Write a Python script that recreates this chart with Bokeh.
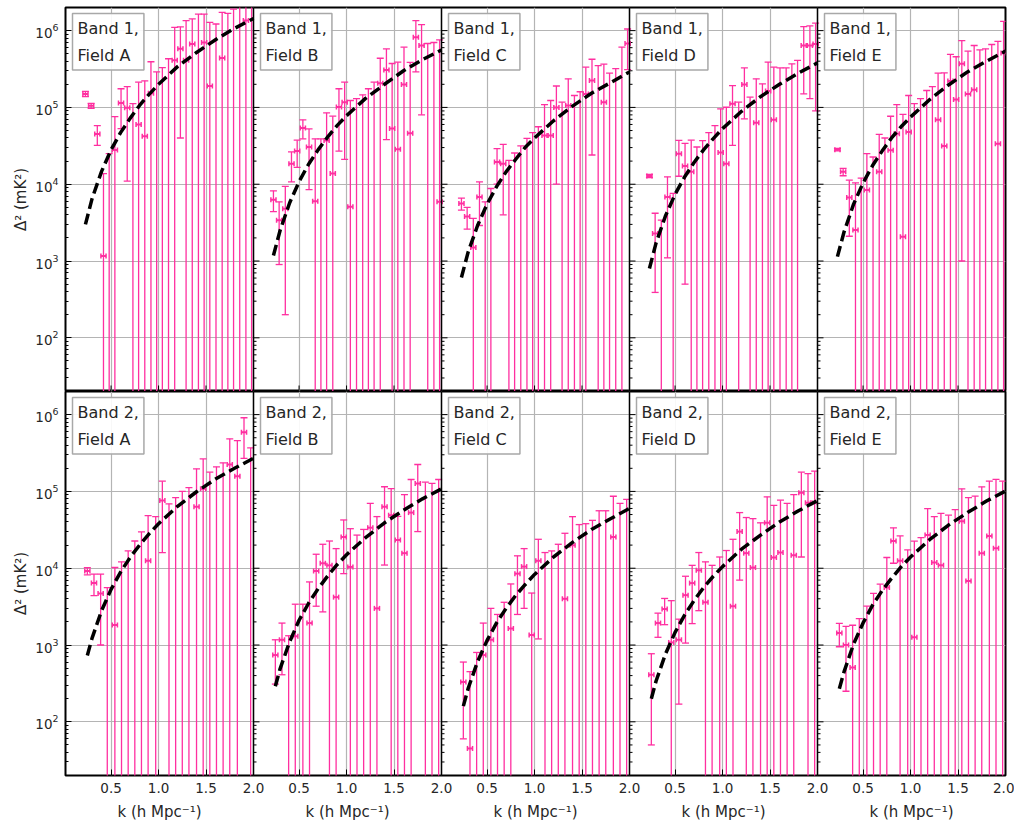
import numpy as np
from bokeh.plotting import figure
from bokeh.layouts import column
from bokeh.models import Range1d, FixedTicker, LogTickFormatter, Label, Span
from bokeh.embed import file_html
from bokeh.resources import INLINE

# ---------------------------------------------------------------- data
# k bin centres (h Mpc^-1)
k_band1 = [0.23, 0.29, 0.355, 0.42, 0.48, 0.54, 0.605, 0.67, 0.73, 0.79,
           0.855, 0.92, 0.98, 1.04, 1.105, 1.17, 1.23, 1.29, 1.355, 1.42,
           1.48, 1.54, 1.605, 1.67, 1.73, 1.79, 1.855, 1.92, 1.98]
k_band2 = [0.25, 0.32, 0.39, 0.46, 0.54, 0.61, 0.68, 0.75, 0.82, 0.89,
           0.97, 1.04, 1.11, 1.18, 1.25, 1.32, 1.40, 1.47, 1.54, 1.61,
           1.68, 1.75, 1.83, 1.90, 1.97]

# Band 1: Delta^2 (mK^2) and 1-sigma errors per field
b1_A_delta = [1.50e5, 1.05e5, 4.5e4, 1.16e3, -5e3, 2.8e4, 1.14e5, 9.9e4, -2e4, 6.0e4,
              4.2e4, 1.53e5, -6e4, -6e4, -8e4, 4.1e5, 5.8e5, 4.1e5, 6.7e5, -3e5,
              7.0e5, 1.9e5, -2e5, 4.4e5, -3e5, -3e5, -3e5, 1.35e6, -4e5]
b1_A_sigma = [1.2e4, 8e3, 1.3e4, 1.26e4, 3.0e4, 4.8e4, 6.1e4, 8.8e4, 1.32e5, 1.53e5,
              1.8e5, 2.4e5, 3.5e5, 3.9e5, 5.1e5, 6.9e5, 5.4e5, 9.4e5, 7.5e5, 1.94e6,
              9.4e5, 1.09e6, 1.42e6, 1.29e6, 1.98e6, 2.2e6, 2.8e6, 1.5e6, 3.2e6]

b1_B_delta = [6.3e3, 3.4e3, 4.8e3, 1.85e4, 2.7e4, 5.4e4, 3.05e4, 6.0e3, -8e3, 3.7e4,
              1.38e4, 1.01e5, 1.17e5, 5.1e3, -2e4, -3e4, -3e4, -4e4, 2.07e5, 3.08e5,
              5.3e4, 2.85e4, 1.99e5, 4.6e4, 8.2e5, 6.4e5, -1e5, -1e5, 5.9e3]
b1_B_sigma = [1.9e3, 2.5e3, 4.6e3, 7.8e3, 1.04e4, 1.5e4, 2.2e4, 3.3e4, 4.7e4, 4.8e4,
              6.3e4, 7.4e4, 9.6e4, 1.18e5, 1.5e5, 1.76e5, 2.05e5, 2.53e5, 2.3e5, 2.7e5,
              3.2e5, 3.6e5, 4.1e5, 3.4e5, 5.3e5, 5.6e5, 7.8e5, 8.0e5, 7.5e5]

b1_C_delta = [5.6e3, 3.8e3, 1.5e3, 6.8e3, -1e3, -2e3, 1.95e4, 1.85e4, -4e3, -5e3,
              -6e3, -8e3, -1e4, -1e4, 4.3e4, 4.3e4, 1.0e5, -2e4, 1.06e5, -3e4,
              -3e4, 1.5e5, 2.24e5, -6e4, 1.17e5, -5e4, -6e4, -1e5, 6.8e5]
b1_C_sigma = [1.0e3, 1.2e3, 2.1e3, 3.9e3, 6.9e3, 1.08e4, 9.5e3, 1.45e4, 2.45e4, 3.05e4,
              3.75e4, 4.75e4, 5.7e4, 6.6e4, 6.6e4, 8.0e4, 9.0e4, 1.37e5, 1.3e5, 1.73e5,
              1.9e5, 1.84e5, 2.0e5, 4.1e5, 2.5e5, 3.3e5, 3.8e5, 7.1e5, 3.7e5]

b1_D_delta = [1.28e4, 2.29e3, -7e2, 6.8e3, -1.5e3, 2.5e4, 1.73e4, 1.45e4, -6e3, -7e3,
              -9e3, -1e4, 2.58e4, 1.85e4, 1.12e5, -2e4, 1.99e5, -3e4, 6.3e4, -4e4,
              1.63e5, 6.9e4, -6e4, -6e4, -7e4, -8e4, 6.4e5, 6.4e5, 6.7e5]
b1_D_sigma = [6e2, 1.9e3, 4.1e3, 5.7e3, 9.1e3, 1.23e4, 1.68e4, 2.3e4, 3.65e4, 4.4e4,
              5.6e4, 6.8e4, 7.0e4, 8.2e4, 8.0e4, 1.37e5, 1.28e5, 1.66e5, 1.73e5, 2.43e5,
              2.27e5, 2.65e5, 3.87e5, 3.87e5, 4.4e5, 4.9e5, 4.9e5, 5.1e5, 5.8e5]

b1_E_delta = [2.82e4, 1.45e4, 6.7e3, 2.53e3, -2e3, 8.4e3, -4e3, 1.45e4, -8e3, 2.77e4,
              4.55e4, 2.07e3, 4.8e4, -2e4, -2e4, -3e4, -4e4, 6.9e4, 3.15e4, 2.2e5,
              1.27e5, 3.7e5, 1.5e5, 1.7e5, -1e5, -1e5, -1e5, 3.37e4, 5.1e5]
b1_E_sigma = [1.0e3, 1.6e3, 4.6e3, 7.9e3, 1.4e4, 1.66e4, 2.66e4, 3.0e4, 4.8e4, 4.9e4,
              6.3e4, 7.9e4, 9.5e4, 1.32e5, 1.5e5, 1.96e5, 2.27e5, 2.1e5, 2.5e5, 2.7e5,
              3.3e5, 3.69e5, 3.9e5, 4.7e5, 6.6e5, 6.8e5, 7.6e5, 6.9e5, 8.1e5]

# Band 2: Delta^2 (mK^2) and 1-sigma errors per field
b2_A_delta = [9.2e3, 6.4e3, 4.7e3, -1e3, 1.82e3, -2e3, -3e3, -4e3, -5e3, 1.25e4,
              -8e3, 7.6e4, -1e4, -1.5e4, -2e4, -2e4, 6.3e4, 1.08e5, -3e4, -4e4,
              -4e4, 2.24e5, 1.58e5, 5.9e5, -6e4]
b2_A_sigma = [1.0e3, 2.0e3, 3.7e3, 6.6e3, 8.4e3, 1.41e4, 1.98e4, 2.66e4, 3.47e4, 3.6e4,
              5.5e4, 6.0e4, 7.9e4, 9.8e4, 1.2e5, 1.32e5, 1.34e5, 1.57e5, 2.08e5, 2.49e5,
              2.76e5, 2.6e5, 3.0e5, 3.2e5, 4.3e5]

b2_B_delta = [7.4e2, 1.17e3, -3e2, 1.3e3, -7e2, 1.93e3, 9.2e3, 1.16e4, 1.09e4, 4.2e3,
              2.55e4, 1.04e4, -5e3, -6e3, 3.37e4, 3.0e3, 6.3e4, 4.9e4, 2.33e4, 1.57e4,
              5.3e4, 1.27e5, -3e4, -3e4, -3e4]
b2_B_sigma = [4.3e2, 7.6e2, 1.62e3, 2.1e3, 4.1e3, 4.7e3, 6.0e3, 8.9e3, 1.17e4, 1.38e4,
              1.7e4, 2.23e4, 3.2e4, 3.8e4, 3.6e4, 4.4e4, 5.2e4, 6.0e4, 2.4e4, 7.5e4,
              9.0e4, 9.7e4, 1.62e5, 1.57e5, 1.73e5]

b2_C_delta = [3.3e2, 45, -1.5e2, 7.4e2, 1.17e3, -5e2, -7e2, 1.64e3, 8.5e3, 1.05e4,
              1.35e3, 1.25e4, -3e3, -3e3, -4e3, 4.0e3, 1.99e4, -7e3, -7e3, -8e3,
              -1e4, -1e4, 2.55e4, -1.3e4, -1.5e4]
b2_C_sigma = [2.7e2, 4.05e2, 9.5e2, 1.19e3, 1.83e3, 3.0e3, 4.3e3, 4.6e3, 6.0e3, 7.5e3,
              3.4e3, 1.13e4, 1.9e4, 1.98e4, 2.45e4, 2.45e4, 2.7e4, 4.4e4, 4.5e4, 5.0e4,
              6.6e4, 6.6e4, 6.1e4, 8.3e4, 9.4e4]

b2_D_delta = [4.1e2, 1.93e3, 2.94e3, 1.08e3, 1.17e3, 4.46e3, 6.4e3, 9.4e3, 3.6e3, -2e3,
              -3e3, -3e3, 3.2e3, 3.0e4, 1.57e4, 1.02e4, -7e3, 3.9e4, 1.38e4, 1.6e4,
              -1.3e4, 1.48e4, 9.6e4, 7.1e4, 7.1e4]
b2_D_sigma = [3.6e2, 6.7e2, 1.1e3, 2.7e3, 1.0e3, 3.4e3, 4.5e3, 6.6e3, 8.5e3, 1.29e4,
              1.7e4, 2.0e4, 2.06e4, 2.3e4, 3.0e4, 3.4e4, 4.6e4, 4.6e4, 5.2e4, 6.1e4,
              8.3e4, 7.6e4, 8.2e4, 1.0e5, 1.13e5]

b2_E_delta = [1.43e3, 1.0e3, 5.1e2, -4e2, -6e2, -9e2, -1e3, 5.6e3, 2.26e4, 1.25e4,
              -3e3, 1.26e3, -5e3, 2.71e4, 1.19e4, 1.09e4, -1e4, -1e4, 4.1e4, 6.8e3,
              -1.5e4, 1.57e4, 2.63e4, 1.82e4, -2.5e4]
b2_E_sigma = [4.8e2, 7.5e2, 1.3e3, 2.6e3, 3.8e3, 5.6e3, 7.2e3, 8.2e3, 1.1e4, 1.38e4,
              2.03e4, 2.13e4, 3.0e4, 3.25e4, 3.5e4, 4.1e4, 5.9e4, 6.8e4, 6.7e4, 7.6e4,
              1.02e5, 9.9e4, 1.1e5, 1.25e5, 1.61e5]

# model curves (dashed)
curve_k_band1 = [0.23, 0.3, 0.4, 0.5, 0.6, 0.7, 0.8, 0.9, 1.0, 1.2, 1.4, 1.6, 1.8, 2.0]
curve_k_band2 = [0.25, 0.3, 0.4, 0.5, 0.6, 0.7, 0.8, 0.9, 1.0, 1.2, 1.4, 1.6, 1.8, 2.0]
b1_A_model = [3.0e3, 6.5e3, 1.47e4, 2.8e4, 4.7e4, 7.2e4, 1.06e5, 1.48e5, 2.0e5, 3.4e5, 5.2e5, 7.6e5, 1.07e6, 1.44e6]
b1_B_model = [1.18e3, 2.5e3, 5.7e3, 1.08e4, 1.82e4, 2.8e4, 4.1e4, 5.8e4, 7.8e4, 1.31e5, 2.0e5, 3.0e5, 4.2e5, 5.6e5]
b1_C_model = [6.1e2, 1.3e3, 2.9e3, 5.5e3, 9.3e3, 1.45e4, 2.1e4, 3.0e4, 4.0e4, 6.7e4, 1.04e5, 1.53e5, 2.1e5, 2.9e5]
b1_D_model = [8.0e2, 1.72e3, 3.9e3, 7.4e3, 1.24e4, 1.92e4, 2.8e4, 3.9e4, 5.3e4, 8.9e4, 1.38e5, 2.0e5, 2.8e5, 3.8e5]
b1_E_model = [1.14e3, 2.4e3, 5.5e3, 1.04e4, 1.75e4, 2.7e4, 4.0e4, 5.6e4, 7.5e4, 1.26e5, 1.96e5, 2.9e5, 4.0e5, 5.4e5]
b2_A_model = [7.3e2, 1.23e3, 2.8e3, 5.3e3, 8.9e3, 1.38e4, 2.0e4, 2.8e4, 3.8e4, 6.4e4, 9.9e4, 1.45e5, 2.0e5, 2.7e5]
b2_B_model = [2.9e2, 4.9e2, 1.1e3, 2.1e3, 3.5e3, 5.4e3, 7.9e3, 1.11e4, 1.5e4, 2.5e4, 3.9e4, 5.7e4, 8.0e4, 1.08e5]
b2_C_model = [1.6e2, 2.7e2, 6.1e2, 1.15e3, 1.94e3, 3.0e3, 4.4e3, 6.1e3, 8.3e3, 1.4e4, 2.17e4, 3.2e4, 4.4e4, 6.0e4]
b2_D_model = [2.0e2, 3.4e2, 7.7e2, 1.46e3, 2.45e3, 3.8e3, 5.6e3, 7.8e3, 1.05e4, 1.77e4, 2.7e4, 4.0e4, 5.6e4, 7.6e4]
b2_E_model = [2.7e2, 4.5e2, 1.03e3, 1.94e3, 3.3e3, 5.1e3, 7.4e3, 1.04e4, 1.4e4, 2.35e4, 3.65e4, 5.3e4, 7.5e4, 1.01e5]

fields = ["A", "B", "C", "D", "E"]
x_tick_values = [0.5, 1.0, 1.5, 2.0]
y_major = [1e2, 1e3, 1e4, 1e5, 1e6]
y_minor = [m * 10.0 ** e for e in range(1, 7) for m in range(2, 10)]

# ---------------------------------------------------------------- style
K_LO, K_HI = 0.02, 2.0
K_SPAN = K_HI - K_LO
Y_LO, Y_HI = 20.0, 2e6
N = len(fields)
PANEL_W, PANEL_H = 188, 384
PX_PER_K = PANEL_W / K_SPAN
PX_PER_DECADE = PANEL_H / np.log10(Y_HI / Y_LO)
LEFT, RIGHT = 65, 9
XERR = 0.027
PINK = "#ff2fa0"
TEXT = "#262626"
FONT = "DejaVu Sans"
GRID = "#b4b4b4"

x_ticks_all = [t + j * K_SPAN for j in range(N) for t in x_tick_values]


def band_row(band, k_bins, deltas, sigmas, curve_k, models, bottom_row):
    p = figure(frame_width=PANEL_W * N, frame_height=PANEL_H,
               x_range=Range1d(K_LO, K_LO + N * K_SPAN),
               y_range=Range1d(Y_LO, Y_HI), y_axis_type="log",
               x_axis_location="below" if bottom_row else None,
               output_backend="svg", toolbar_location=None,
               min_border_left=LEFT, min_border_right=RIGHT,
               min_border_top=0 if bottom_row else 7,
               min_border_bottom=26 if bottom_row else 0)
    p.background_fill_color = "white"
    p.border_fill_color = "white"
    p.outline_line_color = "black"
    p.outline_line_width = 2

    # each field gets its own k scale, placed side by side
    p.extra_x_ranges = {f"field{j}": Range1d(K_LO - j * K_SPAN, K_LO + (N - j) * K_SPAN)
                        for j in range(N)}

    xgrid = p.xgrid[0]
    xgrid.axis.ticker = FixedTicker(ticks=x_ticks_all, minor_ticks=[])
    xgrid.ticker = FixedTicker(ticks=x_ticks_all, minor_ticks=[])
    if bottom_row:
        p.xaxis.major_label_overrides = {t + j * K_SPAN: f"{t:.1f}"
                                         for j in range(N) for t in x_tick_values}
    else:
        # inward k ticks along the lower edge
        tick_top = Y_LO * 10 ** (6 / PX_PER_DECADE)
        p.segment(x0=x_ticks_all, x1=x_ticks_all,
                  y0=[Y_LO] * len(x_ticks_all), y1=[tick_top] * len(x_ticks_all),
                  line_color="black", line_width=1)

    p.yaxis.ticker = FixedTicker(ticks=y_major, minor_ticks=y_minor)
    p.yaxis.formatter = LogTickFormatter()

    for ax in p.axis:
        ax.axis_line_color = None
        ax.major_tick_in = 6
        ax.major_tick_out = 0
        ax.minor_tick_in = 3
        ax.minor_tick_out = 0
        ax.major_tick_line_color = "black"
        ax.minor_tick_line_color = "black"
        ax.major_label_text_font = FONT
        ax.major_label_text_color = TEXT
        ax.major_label_text_font_size = "13.5px"
        ax.major_label_standoff = 7

    p.yaxis.axis_label = "Δ² (mK²)"
    p.yaxis.axis_label_text_font = FONT
    p.yaxis.axis_label_text_font_size = "15px"
    p.yaxis.axis_label_text_font_style = "normal"
    p.yaxis.axis_label_text_color = TEXT
    p.yaxis.axis_label_standoff = 2

    p.xgrid.grid_line_color = GRID
    p.xgrid.grid_line_width = 1.2
    p.ygrid.grid_line_color = GRID
    p.ygrid.grid_line_width = 1.2

    # panel borders and inward y ticks on the inner panel edges
    y_min_in = [v for v in y_minor if Y_LO <= v <= Y_HI]
    for j in range(1, N):
        edge = K_LO + j * K_SPAN
        p.add_layout(Span(location=edge, dimension="height",
                          line_color="black", line_width=1.5))
        p.segment(x0=[edge] * len(y_major), x1=[edge + 6 / PX_PER_K] * len(y_major),
                  y0=y_major, y1=y_major, line_color="black", line_width=1)
        p.segment(x0=[edge] * len(y_min_in), x1=[edge + 3 / PX_PER_K] * len(y_min_in),
                  y0=y_min_in, y1=y_min_in, line_color="black", line_width=1)

    for j in range(N):
        rn = f"field{j}"
        k = np.asarray(k_bins, dtype=float)
        d = np.asarray(deltas[j], dtype=float)
        s = np.asarray(sigmas[j], dtype=float)
        hi = d + s
        lo = d - s
        lo_draw = np.where(lo > 0, lo, Y_LO / 10)

        # vertical error bars with caps
        p.segment(x0=k, y0=lo_draw, x1=k, y1=hi, x_range_name=rn,
                  line_color=PINK, line_width=1.3)
        p.scatter(k, hi, marker="dash", size=7, line_color=PINK,
                  line_width=1.3, x_range_name=rn)
        has_lo = lo > 0
        p.scatter(k[has_lo], lo[has_lo], marker="dash", size=7, line_color=PINK,
                  line_width=1.3, x_range_name=rn)

        # measured points: bin-width bar with end caps
        pos = d > 0
        kp, dp = k[pos], d[pos]
        p.segment(x0=kp - XERR, y0=dp, x1=kp + XERR, y1=dp, x_range_name=rn,
                  line_color=PINK, line_width=2)
        p.scatter(np.concatenate([kp - XERR, kp + XERR]), np.concatenate([dp, dp]),
                  marker="dash", angle=np.pi / 2, size=5, line_color=PINK,
                  line_width=1.5, x_range_name=rn)

        # model curve
        p.line(curve_k, models[j], x_range_name=rn, line_color="black",
               line_width=3.5, line_dash="11 5")

        p.add_layout(Label(x=j * PANEL_W + 7, y=PANEL_H - 6,
                           x_units="screen", y_units="screen",
                           text=f"Band {band},\nField {fields[j]}",
                           anchor="top_left", padding=5,
                           text_font=FONT, text_font_size="16px", text_color=TEXT,
                           text_line_height=1.45,
                           background_fill_color="white", background_fill_alpha=0.9,
                           border_line_color="#a8a8a8", border_line_width=1.5))
    return p


top = band_row(1, k_band1,
               [b1_A_delta, b1_B_delta, b1_C_delta, b1_D_delta, b1_E_delta],
               [b1_A_sigma, b1_B_sigma, b1_C_sigma, b1_D_sigma, b1_E_sigma],
               curve_k_band1,
               [b1_A_model, b1_B_model, b1_C_model, b1_D_model, b1_E_model],
               bottom_row=False)
bottom = band_row(2, k_band2,
                  [b2_A_delta, b2_B_delta, b2_C_delta, b2_D_delta, b2_E_delta],
                  [b2_A_sigma, b2_B_sigma, b2_C_sigma, b2_D_sigma, b2_E_sigma],
                  curve_k_band2,
                  [b2_A_model, b2_B_model, b2_C_model, b2_D_model, b2_E_model],
                  bottom_row=True)

# strip under the bottom row carrying one k-axis title per panel
STRIP_H = 22
strip = figure(frame_width=PANEL_W * N, frame_height=STRIP_H,
               x_range=Range1d(0, PANEL_W * N), y_range=Range1d(0, STRIP_H),
               x_axis_location=None, y_axis_location=None,
               output_backend="svg", toolbar_location=None,
               min_border_left=LEFT, min_border_right=RIGHT,
               min_border_top=0, min_border_bottom=0)
strip.outline_line_color = None
strip.grid.visible = False
strip.border_fill_color = "white"
for j in range(N):
    strip.add_layout(Label(x=j * PANEL_W + PANEL_W / 2, y=STRIP_H - 1,
                           x_units="screen", y_units="screen",
                           text="k (h Mpc⁻¹)", text_align="center",
                           text_baseline="top", text_font=FONT,
                           text_font_size="15px", text_color=TEXT))

layout = column(top, bottom, strip, spacing=0)
open("out.html", "w").write(file_html(layout, INLINE))
